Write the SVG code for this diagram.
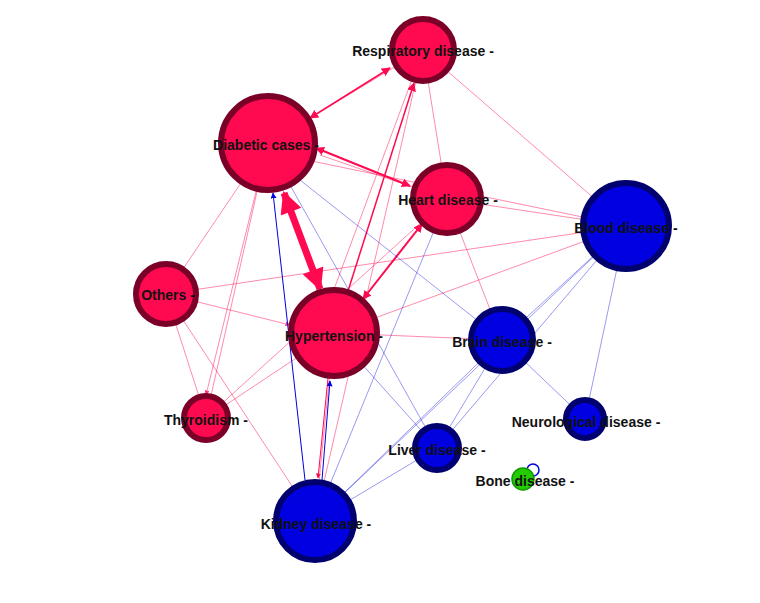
<svg xmlns="http://www.w3.org/2000/svg" width="760" height="603" viewBox="0 0 760 603">
<defs>
<marker id="ap" viewBox="0 0 10 10" refX="9" refY="5" markerWidth="5" markerHeight="5" orient="auto-start-reverse" markerUnits="userSpaceOnUse"><path d="M0,0L10,5L0,10z" fill="#ff0a50"/></marker>
<marker id="apb" viewBox="0 0 10 10" refX="9" refY="5" markerWidth="9" markerHeight="9" orient="auto-start-reverse" markerUnits="userSpaceOnUse"><path d="M0,0L10,5L0,10z" fill="#ff0a50"/></marker>
<marker id="apt" viewBox="0 0 10 10" refX="9" refY="5" markerWidth="24" markerHeight="22" orient="auto-start-reverse" markerUnits="userSpaceOnUse"><path d="M0,0L10,5L0,10z" fill="#ff0a50"/></marker>
<marker id="ab" viewBox="0 0 10 10" refX="9" refY="5" markerWidth="6" markerHeight="6" orient="auto-start-reverse" markerUnits="userSpaceOnUse"><path d="M0,0L10,5L0,10z" fill="#0000e0"/></marker>
</defs>
<style>
.p{stroke:#ff0a50;fill:none;stroke-width:0.6;opacity:0.8}
.b{stroke:#0000e0;fill:none;stroke-width:0.5;opacity:0.8}
.rn{fill:#ff0a50;stroke:#7a0028;stroke-width:6}
.bn{fill:#0000e0;stroke:#00006e;stroke-width:6}
text{font-family:"Liberation Sans",Arial,sans-serif;font-weight:bold;font-size:14px;fill:#111;text-anchor:middle}
</style>
<rect width="760" height="603" fill="#fff"/>
<g id="connectors">
<line class="p" x1="423" y1="50" x2="268" y2="143"/>
<line class="p" x1="423" y1="50" x2="447" y2="199"/>
<line class="p" x1="423" y1="50" x2="626" y2="226"/>
<line class="p" x1="423" y1="50" x2="330" y2="300"/>
<line class="p" x1="268" y1="152" x2="626" y2="226"/>
<line class="p" x1="320" y1="155" x2="447" y2="199"/>
<line class="p" x1="447" y1="199" x2="626" y2="226"/>
<line class="p" x1="447" y1="199" x2="502" y2="340"/>
<line class="p" x1="447" y1="199" x2="206" y2="418"/>
<line class="p" x1="268" y1="143" x2="166" y2="294"/>
<line class="p" x1="268" y1="143" x2="206" y2="418"/>
<line class="p" x1="166" y1="294" x2="626" y2="226"/>
<line class="p" x1="166" y1="294" x2="206" y2="418"/>
<line class="p" x1="166" y1="294" x2="315" y2="521"/>
<line class="p" x1="166" y1="294" x2="290" y2="325" marker-end="url(#ap)"/>
<line class="p" x1="206" y1="418" x2="334" y2="333"/>
<line class="p" x1="334" y1="333" x2="502" y2="340"/>
<line class="p" x1="334" y1="333" x2="626" y2="226"/>
<line class="p" x1="315" y1="521" x2="334" y2="333"/>
<line class="p" x1="315" y1="521" x2="423" y2="50"/>
<line class="p" x1="268" y1="143" x2="206" y2="395" marker-end="url(#ap)"/>
<line stroke="#ff0a50" stroke-width="1.5" x1="310" y1="118" x2="390" y2="68" marker-start="url(#apb)" marker-end="url(#apb)"/>
<line stroke="#ff0a50" stroke-width="2" x1="316" y1="148" x2="410" y2="186" marker-start="url(#apb)" marker-end="url(#apb)"/>
<line stroke="#ff0a50" stroke-width="2" x1="363" y1="299" x2="422" y2="224" marker-start="url(#apb)" marker-end="url(#apb)"/>
<line stroke="#ff0a50" stroke-width="1.5" x1="348" y1="291" x2="414" y2="83" marker-end="url(#apb)"/>
<line stroke="#ff0a50" stroke-width="7" x1="284" y1="193" x2="320" y2="289" marker-start="url(#apt)" marker-end="url(#apt)"/>
<line stroke="#ff0a50" stroke-width="1" x1="328" y1="378" x2="318" y2="478" marker-end="url(#ap)"/>
<line stroke="#0000e0" stroke-width="1" x1="305" y1="480" x2="273" y2="193" marker-end="url(#ab)"/>
<line stroke="#0000e0" stroke-width="1" x1="322" y1="480" x2="330" y2="381" marker-end="url(#ab)"/>
<line class="b" x1="290" y1="185" x2="437" y2="448"/>
<line class="b" x1="300" y1="180" x2="502" y2="340"/>
<line class="b" x1="315" y1="521" x2="447" y2="199"/>
<line class="b" x1="315" y1="521" x2="502" y2="340"/>
<line class="b" x1="318" y1="518" x2="626" y2="226"/>
<line class="b" x1="315" y1="521" x2="437" y2="448"/>
<line class="b" x1="437" y1="448" x2="626" y2="226"/>
<line class="b" x1="437" y1="448" x2="502" y2="340"/>
<line class="b" x1="334" y1="333" x2="437" y2="448"/>
<line class="b" x1="502" y1="340" x2="585" y2="419"/>
<line class="b" x1="626" y1="226" x2="585" y2="419"/>
<line class="b" x1="502" y1="340" x2="626" y2="226"/>
<circle cx="533" cy="470" r="6" fill="none" stroke="#0000e0" stroke-width="1.5"/>
</g>
<g id="respiratory"><circle class="rn" cx="423" cy="50" r="31"/><text x="423" y="56">Respiratory disease -</text></g>
<g id="diabetic"><circle class="rn" cx="268" cy="143" r="47"/><text x="266" y="150">Diabetic cases -</text></g>
<g id="heart"><circle class="rn" cx="447" cy="199" r="34"/><text x="448" y="205">Heart disease -</text></g>
<g id="blood"><circle class="bn" cx="626" cy="226" r="43"/><text x="626" y="233">Blood disease -</text></g>
<g id="others"><circle class="rn" cx="166" cy="294" r="30"/><text x="168" y="300">Others -</text></g>
<g id="hypertension"><circle class="rn" cx="334" cy="333" r="43"/><text x="334" y="341">Hypertension -</text></g>
<g id="brain"><circle class="bn" cx="502" cy="340" r="31"/><text x="502" y="347">Brain disease -</text></g>
<g id="thyroidism"><circle class="rn" cx="206" cy="418" r="22"/><text x="206" y="425">Thyroidism -</text></g>
<g id="neurological"><circle class="bn" cx="585" cy="419" r="19"/><text x="586" y="427">Neurological disease -</text></g>
<g id="liver"><circle class="bn" cx="437" cy="448" r="22"/><text x="437" y="455">Liver disease -</text></g>
<g id="bone"><circle cx="523" cy="479" r="11" fill="#22cc00" stroke="#119900" stroke-width="1.5"/><text x="525" y="486">Bone disease -</text></g>
<g id="kidney"><circle class="bn" cx="315" cy="521" r="39"/><text x="316" y="529">Kidney disease -</text></g>
</svg>
